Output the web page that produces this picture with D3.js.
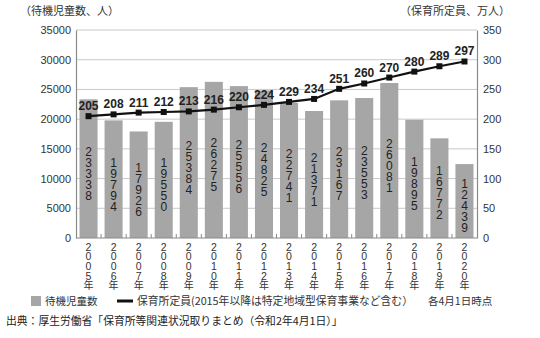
<!DOCTYPE html>
<html><head><meta charset="utf-8">
<script src="https://cdn.jsdelivr.net/npm/d3@7"></script>
<style>
body{margin:0;background:#fff;}
svg{display:block;}
text{font-family:"Liberation Sans","Noto Sans CJK JP",sans-serif;}
.jp{font-family:"Noto Sans CJK JP","Liberation Sans",sans-serif;}
</style></head>
<body>
<script>
const years = ["2005","2006","2007","2008","2009","2010","2011","2012","2013","2014","2015","2016","2017","2018","2019","2020"];
const waiting = [23338,19794,17926,19550,25384,26275,25556,24825,22741,21371,23167,23553,26081,19895,16772,12439];
const capacity = [205,208,211,212,213,216,220,224,229,234,251,260,270,280,289,297];
const leftTicks = [0,5000,10000,15000,20000,25000,30000,35000];
const rightTicks = [0,50,100,150,200,250,300,350];

const W=540,H=338;
const m={left:76,right:63,top:30,bottom:100};
const svg=d3.select("body").append("svg").attr("width",W).attr("height",H);

const x=d3.scaleBand().domain(years).range([m.left,W-m.right]).paddingInner(0.28).paddingOuter(0.14);
const yL=d3.scaleLinear().domain([0,35000]).range([H-m.bottom,m.top]);
const yR=d3.scaleLinear().domain([0,350]).range([H-m.bottom,m.top]);

// gridlines
svg.append("g").selectAll("line").data(leftTicks.slice(1)).join("line")
  .attr("x1",m.left).attr("x2",W-m.right)
  .attr("y1",d=>yL(d)).attr("y2",d=>yL(d))
  .attr("stroke","#c9c9c9").attr("stroke-width",1);

// bars
svg.append("g").selectAll("rect").data(waiting).join("rect")
  .attr("x",(d,i)=>x(years[i])).attr("width",x.bandwidth())
  .attr("y",d=>yL(d)).attr("height",d=>yL(0)-yL(d))
  .attr("fill","#a6a6a6");

// bar labels (vertical digits)
const lh=11;
const bl=svg.append("g").attr("fill","#222").attr("font-size","12px").attr("text-anchor","middle");
waiting.forEach((v,i)=>{
  const s=String(v).split("");
  const cy=(yL(v)+yL(0))/2+5;
  const start=cy-(s.length-1)*lh/2;
  s.forEach((c,k)=>{
    bl.append("text").attr("x",x(years[i])+x.bandwidth()/2).attr("y",start+k*lh).attr("dy","0.36em").text(c);
  });
});

// axes
const axL=svg.append("g").attr("transform",`translate(${m.left},0)`)
  .call(d3.axisLeft(yL).tickValues(leftTicks).tickFormat(d3.format("d")).tickSize(0).tickPadding(5));
const axR=svg.append("g").attr("transform",`translate(${W-m.right},0)`)
  .call(d3.axisRight(yR).tickValues(rightTicks).tickFormat(d3.format("d")).tickSize(0).tickPadding(6));
[axL,axR].forEach(a=>{
  a.select(".domain").attr("stroke","#8a8a8a").attr("stroke-width",1.2);
  a.selectAll("text").attr("font-size","11px").attr("fill","#333").attr("font-family","Liberation Sans, sans-serif");
});
svg.append("line").attr("x1",m.left).attr("x2",W-m.right).attr("y1",yL(0)).attr("y2",yL(0))
  .attr("stroke","#8a8a8a").attr("stroke-width",1.2);
svg.append("g").selectAll("line").data(years.slice(1)).join("line")
  .attr("x1",d=>x(d)-x.step()*x.paddingInner()/2).attr("x2",d=>x(d)-x.step()*x.paddingInner()/2)
  .attr("y1",yL(0)).attr("y2",yL(0)-4).attr("stroke","#8a8a8a").attr("stroke-width",1);

// x labels vertical
const xl=svg.append("g").attr("fill","#333").attr("text-anchor","middle");
years.forEach(yr=>{
  const chars=(yr+"年").split("");
  chars.forEach((c,k)=>{
    xl.append("text").attr("class",c==="年"?"jp":null)
      .attr("x",x(yr)+x.bandwidth()/2).attr("y",247+k*9.6).attr("dy","0.36em")
      .attr("font-size",c==="年"?"10px":"10.5px").text(c);
  });
});

// line
const line=d3.line().x((d,i)=>x(years[i])+x.bandwidth()/2).y(d=>yR(d));
svg.append("path").datum(capacity).attr("d",line).attr("fill","none").attr("stroke","#111").attr("stroke-width",2.2);
svg.append("g").selectAll("rect").data(capacity).join("rect")
  .attr("x",(d,i)=>x(years[i])+x.bandwidth()/2-3).attr("y",d=>yR(d)-3)
  .attr("width",6).attr("height",6).attr("fill","#111");
svg.append("g").selectAll("text").data(capacity).join("text")
  .attr("x",(d,i)=>x(years[i])+x.bandwidth()/2).attr("y",d=>yR(d)-6)
  .attr("text-anchor","middle").attr("font-size","12px").attr("font-weight","bold").attr("fill","#222")
  .text(d=>d);

// titles
svg.append("text").attr("class","jp").attr("x",20).attr("y",11).attr("dy","0.36em")
  .attr("font-size","11px").attr("fill","#333").text("（待機児童数、人）");
svg.append("text").attr("class","jp").attr("x",510).attr("y",11).attr("dy","0.36em").attr("text-anchor","end")
  .attr("font-size","11px").attr("fill","#333").text("（保育所定員、万人）");

// legend
svg.append("rect").attr("x",31).attr("y",296).attr("width",10).attr("height",10).attr("fill","#a6a6a6");
svg.append("text").attr("class","jp").attr("x",45).attr("y",301).attr("dy","0.36em").attr("font-size","10.5px").attr("fill","#333").text("待機児童数");
svg.append("line").attr("x1",117).attr("x2",133).attr("y1",301).attr("y2",301).attr("stroke","#111").attr("stroke-width",3);
svg.append("text").attr("class","jp").attr("x",137).attr("y",301).attr("dy","0.36em").attr("font-size","10.8px").attr("fill","#333").text("保育所定員(2015年以降は特定地域型保育事業など含む）");
svg.append("text").attr("class","jp").attr("x",428).attr("y",301).attr("dy","0.36em").attr("font-size","10.5px").attr("fill","#333").text("各4月1日時点");

// source
svg.append("text").attr("class","jp").attr("x",6).attr("y",321).attr("dy","0.36em").attr("font-size","10.8px").attr("fill","#222")
  .text("出典：厚生労働省「保育所等関連状況取りまとめ（令和2年4月1日）」");
</script>
</body></html>
